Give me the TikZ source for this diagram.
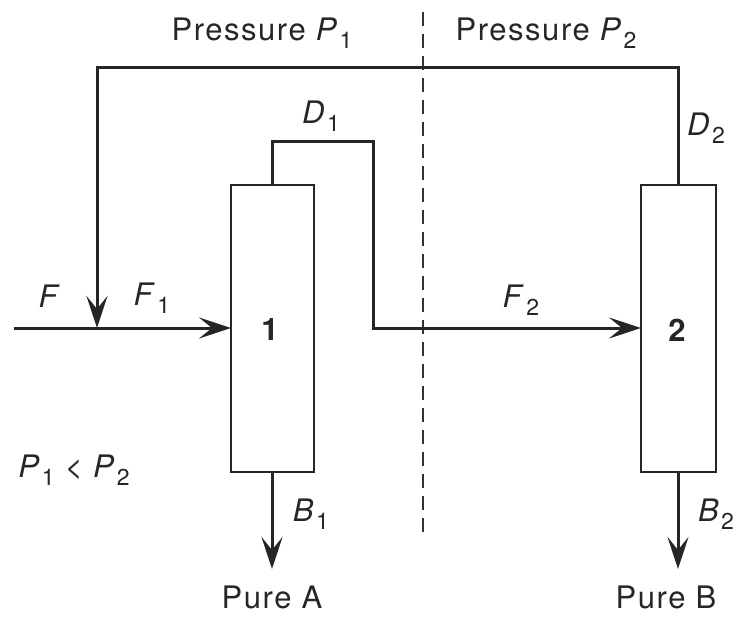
\documentclass[tikz,border=0pt]{standalone}
\usepackage{fontspec}
\setmainfont[LetterSpace=5]{TeX Gyre Heros}
\usetikzlibrary{arrows.meta}
\newcommand\varsub[2]{\textit{#1}\kern1pt\raisebox{-0.5ex}{\fontsize{23}{23}\selectfont #2}}
\tikzset{
  flow/.style={line width=3pt, draw=black!85},
  arr/.style={flow, -{Stealth[length=32pt,width=21pt,inset=13pt]}},
  column/.style={draw=black!85, line width=2.6pt},
  lbl/.style={font=\fontsize{31}{33}\selectfont, text=black!85, inner sep=0pt},
  colnum/.style={lbl, font=\fontsize{31}{33}\selectfont\bfseries},
}
\begin{document}
\begin{tikzpicture}[x=1pt,y=-1pt]
\useasboundingbox (0,0) rectangle (738,617);
% columns
\draw[column] (231,185) rectangle (314,472);
\draw[column] (641,185) rectangle (716,472);
\node[colnum] (n1) at (270,330) {1};
\node[colnum] (n2) at (677,330) {2};
% coordinates
\coordinate (c1top) at (272,185);
\coordinate (c1bot) at (272,472);
\coordinate (c2top) at (678,185);
\coordinate (c2bot) at (678,472);
\coordinate (c1in) at (231,328);
\coordinate (c2in) at (641,328);
\coordinate (feedstart) at (14,328);
\coordinate (mix) at (97,328);
\coordinate (pureA) at (272,569);
\coordinate (pureB) at (678,569);
% dashed divider
\draw[line width=1.8pt, draw=black!80, dash pattern=on 14pt off 8pt] (423,12) -- (423,532);
% recycle D2 to feed
\draw[flow] (c2top) -- (678,68) -- (97,68) -- (97,300);
\draw[arr] (97,280) -- (mix);
% feed
\draw[arr] (feedstart) -- (c1in);
% D1 to column 2
\draw[flow] (c1top) -- (272,142) -- (373,142) -- (373,328) -- (600,328);
\draw[arr] (590,328) -- (c2in);
% bottoms
\draw[arr] (c1bot) -- (pureA);
\draw[arr] (c2bot) -- (pureB);
% labels
\node[lbl] at (262,33) {Pressure \varsub{P}{1}};
\node[lbl] at (546,33) {Pressure \varsub{P}{2}};
\node[lbl] at (321,116) {\varsub{D}{1}};
\node[lbl] at (706,128) {\varsub{D}{2}};
\node[lbl] at (50,296) {\textit{F}};
\node[lbl] at (152,298) {\varsub{F}{1}};
\node[lbl] at (521,300) {\varsub{F}{2}};
\node[lbl] at (74,470) {\varsub{P}{1} < \varsub{P}{2}};
\node[lbl] at (311,514) {\varsub{B}{1}};
\node[lbl] at (716,514) {\varsub{B}{2}};
\node[lbl] at (272,597) {Pure A};
\node[lbl] at (666,597) {Pure B};
\end{tikzpicture}
\end{document}
